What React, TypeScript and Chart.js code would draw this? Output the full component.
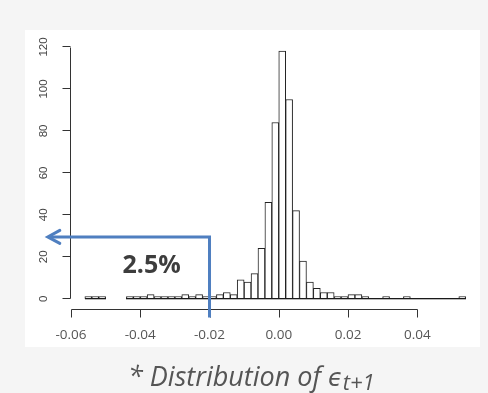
import React, { useEffect, useRef } from "react";
import { Chart, registerables } from "chart.js";

Chart.register(...registerables);

// Histogram bins (left edges) and counts
const binStarts = [
  -0.056, -0.054, -0.052, -0.05, -0.048, -0.046, -0.044, -0.042, -0.04, -0.038,
  -0.036, -0.034, -0.032, -0.03, -0.028, -0.026, -0.024, -0.022, -0.02, -0.018,
  -0.016, -0.014, -0.012, -0.01, -0.008, -0.006, -0.004, -0.002, 0.0, 0.002,
  0.004, 0.006, 0.008, 0.01, 0.012, 0.014, 0.016, 0.018, 0.02, 0.022,
  0.024, 0.026, 0.028, 0.03, 0.032, 0.034, 0.036, 0.038, 0.04, 0.042,
  0.044, 0.046, 0.048, 0.05, 0.052,
];
const counts = [
  1, 1, 1, 0, 0, 0, 1, 1, 1, 2,
  1, 1, 1, 1, 2, 1, 2, 1, 1, 2,
  3, 2, 9, 8, 12, 24, 46, 84, 118, 95,
  42, 18, 8, 5, 3, 3, 1, 1, 2, 2,
  1, 0, 0, 1, 0, 0, 1, 0, 0, 0,
  0, 0, 0, 0, 1,
];
const binWidth = 0.002;

// Baseline segments drawn under the bins: [start, end]
const baselineStarts = [-0.056, -0.044];
const baselineEnds = [-0.05, 0.054];

// Axis ticks
const xTicks = [-0.06, -0.04, -0.02, 0.0, 0.02, 0.04];
const xTickLabels = ["-0.06", "-0.04", "-0.02", "0.00", "0.02", "0.04"];
const yTicks = [0, 20, 40, 60, 80, 100, 120];
const yTickLabels = ["0", "20", "40", "60", "80", "100", "120"];

// Annotation
const annotationText = "2.5%";
const arrowX = -0.02;
const arrowLevel = 29.5;
const arrowTipX = -0.0667;
const annotationTextX = -0.0367;
const annotationTextY = 12.1;

const yAxisAtX = -0.0603;
const xAxisAtY = -4.8;

const rAxesPlugin = {
  id: "rAxes",
  afterDraw(chart: any) {
    const { ctx } = chart;
    const xs = chart.scales.x;
    const ys = chart.scales.y;
    ctx.save();
    const axisX = Math.round(xs.getPixelForValue(yAxisAtX)) + 0.5;
    const axisY = Math.round(ys.getPixelForValue(xAxisAtY)) + 0.5;
    const tick = 8;

    // baseline of the histogram
    const by = Math.round(ys.getPixelForValue(0)) - 1;
    ctx.fillStyle = "#1a1a1a";
    baselineStarts.forEach((s, i) => {
      const a = Math.round(xs.getPixelForValue(s));
      const b = Math.round(xs.getPixelForValue(baselineEnds[i]));
      ctx.fillRect(a, by, b - a, 1.3);
    });

    ctx.strokeStyle = "#333";
    ctx.lineWidth = 1;
    ctx.beginPath();
    const y0 = Math.round(ys.getPixelForValue(yTicks[0])) - 0.5;
    const y1 = Math.round(ys.getPixelForValue(yTicks[yTicks.length - 1])) + 0.5;
    ctx.moveTo(axisX, y0);
    ctx.lineTo(axisX, y1);
    yTicks.forEach((v) => {
      const py = Math.round(ys.getPixelForValue(v)) - 0.5;
      ctx.moveTo(axisX, py);
      ctx.lineTo(axisX - tick, py);
    });
    const x0 = Math.round(xs.getPixelForValue(xTicks[0])) + 0.5;
    const x1 = Math.round(xs.getPixelForValue(xTicks[xTicks.length - 1])) + 0.5;
    ctx.moveTo(x0, axisY);
    ctx.lineTo(x1, axisY);
    xTicks.forEach((v) => {
      const px = Math.round(xs.getPixelForValue(v)) + 0.5;
      ctx.moveTo(px, axisY);
      ctx.lineTo(px, axisY + tick);
    });
    ctx.stroke();

    // y labels (rotated)
    ctx.fillStyle = "#444";
    ctx.font = '11.5px "Liberation Sans", Arial, sans-serif';
    ctx.textAlign = "center";
    ctx.textBaseline = "middle";
    yTicks.forEach((v, i) => {
      const py = ys.getPixelForValue(v);
      ctx.save();
      ctx.translate(axisX - 27, py);
      ctx.rotate(-Math.PI / 2);
      ctx.fillText(yTickLabels[i], 0, 0);
      ctx.restore();
    });

    // x labels
    ctx.fillStyle = "#555";
    ctx.font = '13.5px "Open Sans", sans-serif';
    xTicks.forEach((v, i) => {
      ctx.fillText(xTickLabels[i], xs.getPixelForValue(v), axisY + 26);
    });

    // arrow
    const vx = xs.getPixelForValue(arrowX);
    const ly = ys.getPixelForValue(arrowLevel);
    const tipX = xs.getPixelForValue(arrowTipX);
    ctx.strokeStyle = "#4f7fc0";
    ctx.lineWidth = 3;
    ctx.lineJoin = "miter";
    ctx.beginPath();
    ctx.moveTo(vx, axisY + 8);
    ctx.lineTo(vx, ly);
    ctx.lineTo(tipX + 1, ly);
    ctx.stroke();
    ctx.beginPath();
    ctx.lineCap = "round";
    ctx.moveTo(tipX + 12, ly - 6.5);
    ctx.lineTo(tipX, ly);
    ctx.lineTo(tipX + 12, ly + 6.5);
    ctx.stroke();

    // annotation text
    ctx.fillStyle = "#3d3d3d";
    ctx.font = 'bold 25px "Open Sans", sans-serif';
    ctx.textAlign = "center";
    ctx.textBaseline = "alphabetic";
    ctx.fillText(
      annotationText,
      xs.getPixelForValue(annotationTextX),
      ys.getPixelForValue(annotationTextY)
    );
    ctx.restore();
  },
};

export default function App() {
  const ref = useRef<HTMLCanvasElement>(null);
  useEffect(() => {
    if (!ref.current) return;
    const chart = new Chart(ref.current, {
      type: "bar",
      data: {
        datasets: [
          {
            data: binStarts.map((s, i) => ({ x: s + binWidth / 2, y: counts[i] })),
            backgroundColor: "#ffffff",
            borderColor: "#222",
            borderWidth: 1,
            borderSkipped: false,
            barPercentage: 1,
            categoryPercentage: 1,
          } as any,
        ],
      },
      options: {
        animation: false,
        responsive: false,
        events: [],
        layout: { padding: { left: 71, right: 18.8, top: 47, bottom: 94.2 } },
        scales: {
          x: { type: "linear", min: -0.06, max: 0.055, display: false, offset: false, bounds: "data" },
          y: { type: "linear", min: 0, max: 120, display: false },
        },
        plugins: { legend: { display: false }, tooltip: { enabled: false } },
      } as any,
      plugins: [rAxesPlugin],
    });
    return () => chart.destroy();
  }, []);

  return (
    <div
      style={{
        position: "fixed",
        left: 0,
        top: 0,
        width: 488,
        height: 393,
        background: "#f5f5f5",
        overflow: "hidden",
      }}
    >
      <div
        style={{
          position: "absolute",
          left: 25,
          top: 30,
          width: 455,
          height: 317,
          background: "#ffffff",
        }}
      />
      <canvas
        ref={ref}
        width={488}
        height={393}
        style={{ position: "absolute", left: 0, top: 0, width: 488, height: 393 }}
      />
      <div
        style={{
          position: "absolute",
          left: 128,
          top: 363,
          whiteSpace: "nowrap",
          font: 'italic 400 27px "Open Sans", sans-serif',
          lineHeight: "26px",
          color: "#555",
        }}
      >
        * Distribution of{" "}
        <span style={{ fontFamily: '"DejaVu Sans", sans-serif', fontWeight: 200, fontSize: 24 }}>ϵ</span>
        <span style={{ fontSize: 22, verticalAlign: "-4px" }}>t+1</span>
      </div>
    </div>
  );
}
